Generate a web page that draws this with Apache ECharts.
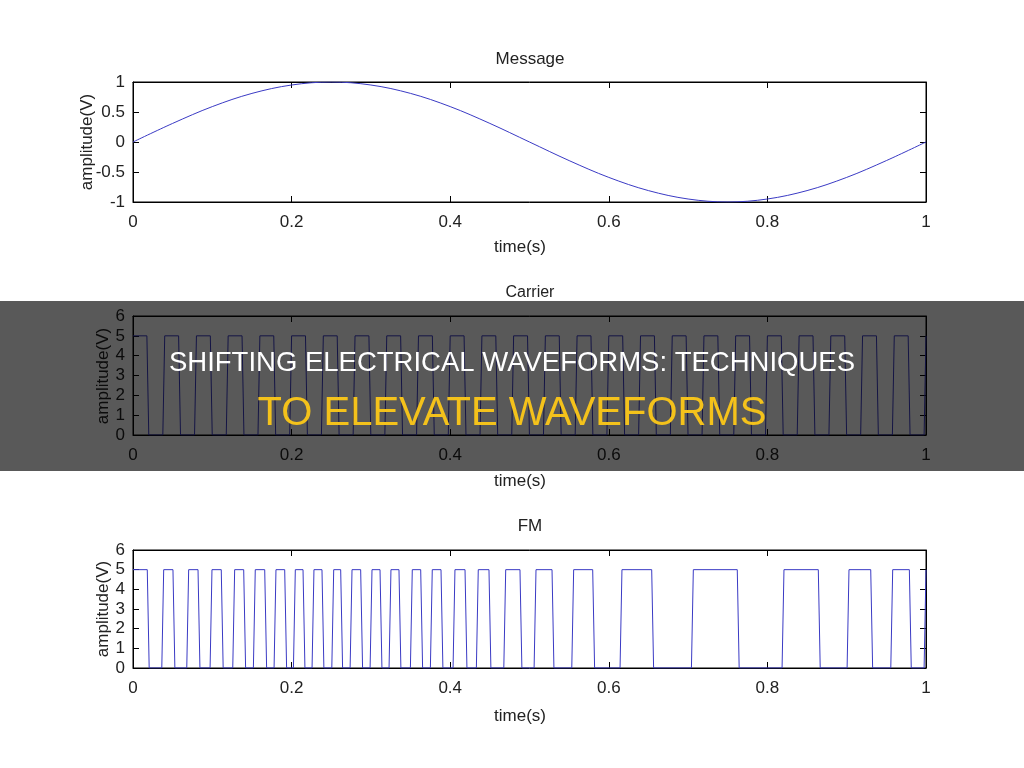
<!DOCTYPE html>
<html>
<head>
<meta charset="utf-8">
<title>Message / Carrier / FM</title>
<script src="https://cdn.jsdelivr.net/npm/echarts@6/dist/echarts.min.js"></script>
<style>
  html, body { margin: 0; padding: 0; background: #fff; }
  #chart { width: 1024px; height: 768px; }
</style>
</head>
<body>
<div id="chart"></div>
<script>
// message signal
var msgTime = [0, 0.05, 0.1, 0.15, 0.2, 0.25, 0.3, 0.35, 0.4, 0.45, 0.5,
               0.55, 0.6, 0.65, 0.7, 0.75, 0.8, 0.85, 0.9, 0.95, 1];
var msgAmp = [0, 0.31, 0.59, 0.81, 0.95, 1, 0.95, 0.81, 0.59, 0.31, 0,
              -0.31, -0.59, -0.81, -0.95, -1, -0.95, -0.81, -0.59, -0.31, 0];

// square waves: [time reaching high, time leaving high] for each pulse
var pulseHigh = 5;
var carrierPulses = [
  [0, 0.0175], [0.04, 0.0575], [0.08, 0.0975], [0.12, 0.1375], [0.16, 0.1775],
  [0.20, 0.2175], [0.24, 0.2575], [0.28, 0.2975], [0.32, 0.3375], [0.36, 0.3775],
  [0.40, 0.4175], [0.44, 0.4575], [0.48, 0.4975], [0.52, 0.5375], [0.56, 0.5775],
  [0.60, 0.6175], [0.64, 0.6575], [0.68, 0.6975], [0.72, 0.7375], [0.76, 0.7775],
  [0.80, 0.8175], [0.84, 0.8575], [0.88, 0.8975], [0.92, 0.9375], [0.96, 0.9775],
  [1, 1]
];
var fmPulses = [
  [0, 0.0180], [0.0387, 0.0504], [0.0702, 0.0820], [0.0996, 0.1113], [0.1282, 0.1396],
  [0.1542, 0.1661], [0.1803, 0.1913], [0.2047, 0.2144], [0.2282, 0.2383], [0.2531, 0.2619],
  [0.2762, 0.2871], [0.3014, 0.3115], [0.3253, 0.3354], [0.3522, 0.3628], [0.3774, 0.3884],
  [0.4060, 0.4187], [0.4354, 0.4489], [0.4700, 0.4880], [0.5082, 0.5284], [0.5557, 0.5797],
  [0.6166, 0.6541], [0.7066, 0.7620], [0.8209, 0.8642], [0.9029, 0.9303], [0.9580, 0.9790],
  [1, 1]
];

var xTicks = [0, 0.2, 0.4, 0.6, 0.8, 1];

var FONT = '"Liberation Sans", Arial, sans-serif';
var INK = '#222';
var LINE = '#3a3ac4';
var RAMP = 0.0024;

function pulsePoints(list) {
  var pts = [];
  list.forEach(function (p) {
    pts.push([p[0] - RAMP, 0], [p[0], pulseHigh], [p[1], pulseHigh], [p[1] + RAMP, 0]);
  });
  return pts.filter(function (q) { return q[0] >= 0 && q[0] <= 1; });
}

var msgData = msgTime.map(function (t, i) { return [t, msgAmp[i]]; });

var grids = [
  { left: 133, right: 98, top: 82, height: 120 },
  { left: 133, right: 98, top: 316, height: 119 },
  { left: 133, right: 98, top: 550, height: 118 }
];
var yRange = [[-1, 1, 0.5], [0, 6, 1], [0, 6, 1]];

var xAxes = [], yAxes = [];
grids.forEach(function (g, i) {
  xAxes.push({
    gridIndex: i, type: 'value', min: 0, max: 1, interval: 0.2,
    axisLine: { show: true, onZero: false, lineStyle: { color: '#000', width: 1 } },
    axisTick: { show: true, inside: true, length: 6, lineStyle: { color: '#000' } },
    axisLabel: { color: INK, fontSize: 17, fontFamily: FONT, margin: 12,
      formatter: function (v) { return xTicks.indexOf(+v.toFixed(1)) >= 0 ? String(+v.toFixed(1)) : ''; } },
    splitLine: { show: false }
  });
  xAxes.push({
    gridIndex: i, type: 'value', min: 0, max: 1, interval: 0.2, position: 'top',
    axisLine: { show: true, onZero: false, lineStyle: { color: '#000', width: 1 } },
    axisTick: { show: true, inside: true, length: 6, lineStyle: { color: '#000' } },
    axisLabel: { show: false },
    splitLine: { show: false }
  });
  yAxes.push({
    gridIndex: i, type: 'value', min: yRange[i][0], max: yRange[i][1], interval: yRange[i][2],
    axisLine: { show: true, onZero: false, lineStyle: { color: '#000', width: 1 } },
    axisTick: { show: true, inside: true, length: 6, lineStyle: { color: '#000' } },
    axisLabel: { color: INK, fontSize: 17, fontFamily: FONT, margin: 8 },
    splitLine: { show: false }
  });
  yAxes.push({
    gridIndex: i, type: 'value', min: yRange[i][0], max: yRange[i][1], interval: yRange[i][2],
    position: 'right',
    axisLine: { show: true, onZero: false, lineStyle: { color: '#000', width: 1 } },
    axisTick: { show: true, inside: true, length: 6, lineStyle: { color: '#000' } },
    axisLabel: { show: false },
    splitLine: { show: false }
  });
});

// titles, axis names and the caption band
function txt(s, x, y, opts) {
  opts = opts || {};
  return {
    type: 'text', x: x, y: y, rotation: opts.rot || 0, z: opts.z || 10,
    style: {
      text: s, fill: opts.color || INK,
      font: (opts.weight || 'normal') + ' ' + (opts.size || 17) + 'px ' + (opts.family || FONT),
      align: 'center', verticalAlign: 'middle'
    }
  };
}

var graphics = [
  txt('Message', 530, 59),
  txt('time(s)', 520, 247),
  txt('amplitude(V)', 87, 142, { rot: Math.PI / 2 }),
  txt('Carrier', 530, 293, { size: 16 }),
  txt('time(s)', 520, 481),
  txt('amplitude(V)', 103, 376, { rot: Math.PI / 2 }),
  txt('FM', 530, 526),
  txt('time(s)', 520, 716),
  txt('amplitude(V)', 103, 609, { rot: Math.PI / 2 }),
  {
    type: 'rect', z: 100,
    shape: { x: 0, y: 301, width: 1024, height: 170 },
    style: { fill: 'rgba(0,0,0,0.65)' }
  },
  txt('SHIFTING ELECTRICAL WAVEFORMS: TECHNIQUES', 512, 363,
      { z: 101, size: 27.5, color: '#ffffff' }),
  txt('TO ELEVATE WAVEFORMS', 512, 414,
      { z: 101, size: 40, color: '#f4c21b' })
];

var chart = echarts.init(document.getElementById('chart'), null, { renderer: 'canvas' });
chart.setOption({
  animation: false,
  backgroundColor: '#fff',
  grid: grids.map(function (g) {
    return Object.assign({ show: true, borderColor: '#000', borderWidth: 1, backgroundColor: 'transparent' }, g);
  }),
  xAxis: xAxes,
  yAxis: yAxes,
  graphic: graphics,
  series: [
    {
      type: 'line', xAxisIndex: 0, yAxisIndex: 0, data: msgData, smooth: 0.35,
      showSymbol: false, lineStyle: { color: LINE, width: 1 }
    },
    {
      type: 'line', xAxisIndex: 2, yAxisIndex: 2, data: pulsePoints(carrierPulses),
      showSymbol: false, lineStyle: { color: LINE, width: 1 }
    },
    {
      type: 'line', xAxisIndex: 4, yAxisIndex: 4, data: pulsePoints(fmPulses),
      showSymbol: false, lineStyle: { color: LINE, width: 1 }
    }
  ]
});
</script>
</body>
</html>
